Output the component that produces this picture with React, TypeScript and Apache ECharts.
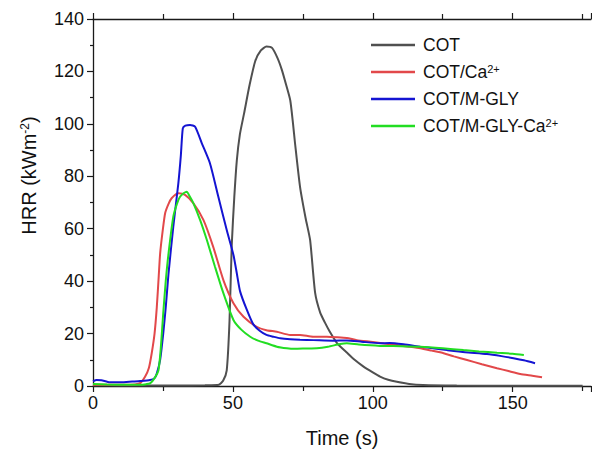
import React, { useEffect, useRef } from "react";
import * as echarts from "echarts";

const seriesNames = ["COT", "COT/Ca2+", "COT/M-GLY", "COT/M-GLY-Ca2+"];
const seriesColors = ["#505050", "#e2484a", "#1414d2", "#22dd22"];

// [time (s), HRR (kW m^-2)]
const cot: number[][] = [
  [0, 0.3], [10, 0.2], [20, 0.2], [30, 0.2], [40, 0.3], [45, 0.5], [46.5, 2], [47.8, 6],
  [48.8, 25], [49.6, 54], [50.5, 72], [51.4, 86], [52.5, 96], [54, 104], [56, 115], [58, 124],
  [60, 128], [62, 129.5], [64, 129], [66, 125], [67.5, 120.6], [69, 115], [70.5, 109],
  [71.5, 100], [72.2, 92.7], [74, 76], [76, 64], [77.6, 55.7], [79.4, 35.5], [81.2, 28],
  [83, 24], [84.5, 21], [87.2, 16.4], [90.7, 12.8], [93.5, 10], [96.7, 7.4], [100, 5.2],
  [102.6, 3.6], [105.5, 2.4], [108.6, 1.6], [113, 0.8], [118, 0.4], [130, 0.2], [150, 0.1],
  [175, 0.1],
];
const cotCa: number[][] = [
  [0, 0.5], [5, 0.5], [10, 0.5], [15, 0.6], [17, 1.2], [18.6, 3.5], [20, 7], [21, 12.6],
  [22, 20], [22.8, 30], [23.5, 42], [24, 50.6], [25, 60], [25.8, 66], [27, 69.5], [28.1, 71.6],
  [30.5, 73.5], [32.9, 72.9], [35.9, 69.7], [39.5, 63.3], [43, 53], [46.6, 40.4], [50.2, 31.6],
  [53.8, 26.4], [58.5, 22.6], [62, 21.3], [65.7, 20.7], [70.5, 19.5], [74, 19.5], [78.7, 18.8],
  [83.6, 18.8], [87.2, 18.6], [90.7, 18.3], [94.3, 17.5], [100, 16.8], [104, 16.2],
  [108.6, 15.6], [113, 15], [117, 14.4], [121, 13.5], [125.3, 12.5], [129, 11.3], [133.7, 9.9],
  [139, 8.3], [144.4, 6.8], [148.5, 5.7], [152.7, 4.6], [157, 3.9], [160.5, 3.3],
];
const cotGly: number[][] = [
  [0, 1.8], [1.3, 2.3], [3, 2.2], [6, 1.4], [10, 1.4], [14, 1.7], [16.8, 1.9], [20.4, 2.3],
  [22, 3], [22.8, 4.8], [24, 10], [25.1, 20], [26, 30], [27, 43], [28.7, 60.8], [30.5, 77.3],
  [31.4, 88], [32.1, 98.3], [33, 99.3], [34.7, 99.6], [36.5, 98.9], [38.9, 92.6], [41.8, 85],
  [44.8, 72.2], [47.8, 59.5], [50.2, 50], [51.4, 43], [52.6, 36], [55, 29], [57.3, 23.5],
  [59.7, 21], [62, 19.5], [64.5, 18.8], [66.9, 18.2], [70.5, 17.8], [74, 17.6], [78.8, 17.5],
  [85.8, 17.3], [90.7, 17.4], [96, 16.9], [102.6, 16.3], [106, 16.4], [111, 15.9], [117, 15],
  [122, 14.3], [126.5, 13.7], [133, 12.9], [140.8, 12.2], [146, 11.4], [150.3, 10.6],
  [154, 9.8], [158, 8.7],
];
const cotGlyCa: number[][] = [
  [0, 0.8], [5, 0.6], [10, 0.5], [16.8, 0.5], [19, 0.7], [20.4, 1], [22, 3], [23.4, 6],
  [24.2, 14], [25.1, 27.7], [26, 40], [27, 50.6], [28.7, 64.6], [30, 69.5], [31.1, 72.2],
  [32.5, 73.6], [33.5, 74.1], [34.5, 72.5], [35.9, 69.7], [38.3, 63.3], [40.7, 55.7],
  [43.6, 45.5], [46.6, 35.4], [50.2, 25.2], [53, 21.5], [56.2, 18.8], [59, 17.3], [62, 16.3],
  [65.7, 15], [69.3, 14.4], [72, 14.2], [76, 14.3], [80, 14.4], [84, 15], [88.3, 16],
  [90.7, 16.3], [95, 15.8], [102.6, 15.3], [110, 15.2], [117, 15], [125, 14.4], [132.4, 13.7],
  [138, 13.2], [144.4, 12.7], [150, 12.3], [154, 11.8],
];
const allData = [cot, cotCa, cotGly, cotGlyCa];

const legendLabels: Record<string, string> = {
  "COT": "COT",
  "COT/Ca2+": "COT/Ca{sup|2+}",
  "COT/M-GLY": "COT/M-GLY",
  "COT/M-GLY-Ca2+": "COT/M-GLY-Ca{sup|2+}",
};

const FONT = "'Liberation Sans', Arial, sans-serif";

export default function App() {
  const ref = useRef<HTMLDivElement>(null);
  useEffect(() => {
    if (!ref.current) return;
    const chart = echarts.init(ref.current, undefined, { renderer: "svg" });
    const axisLine = { show: true, lineStyle: { color: "#1a1a1a", width: 1.3 } };
    const tickStyle = { color: "#1a1a1a", width: 1.2 };
    chart.setOption({
      animation: false,
      backgroundColor: "#ffffff",
      textStyle: { fontFamily: FONT },
      grid: { left: 93, right: 1, top: 19, bottom: 67 },
      legend: {
        orient: "vertical",
        left: 371,
        top: 36,
        padding: 0,
        itemWidth: 44,
        itemHeight: 2.5,
        itemGap: 9,
        icon: "rect",
        data: seriesNames,
        formatter: (n: string) => legendLabels[n] || n,
        textStyle: {
          fontFamily: FONT,
          fontSize: 17.5,
          color: "#111",
          padding: [0, 0, 0, 3],
          lineHeight: 17,
          rich: {
            sup: { fontSize: 11, fontFamily: FONT, color: "#111", verticalAlign: "top", lineHeight: 17, padding: [0, 0, 6, 0] },
          },
        },
      },
      xAxis: [
        {
          type: "value",
          min: 0,
          max: 178,
          interval: 50,
          name: "Time (s)",
          nameLocation: "middle",
          nameGap: 42,
          nameTextStyle: { fontSize: 20, color: "#111", fontFamily: FONT },
          axisLine,
          axisTick: { show: true, length: 6, lineStyle: tickStyle },
          minorTick: { show: true, splitNumber: 2, length: 5, lineStyle: tickStyle },
          axisLabel: { fontSize: 18, color: "#111", margin: 8, fontFamily: FONT, showMaxLabel: false },
          splitLine: { show: false },
        },
        {
          type: "value",
          position: "top",
          min: 0,
          max: 178,
          interval: 50,
          axisLine,
          axisTick: { show: true, length: 6, lineStyle: tickStyle },
          minorTick: { show: true, splitNumber: 2, length: 5, lineStyle: tickStyle },
          axisLabel: { show: false },
          splitLine: { show: false },
        },
      ],
      yAxis: {
        type: "value",
        min: 0,
        max: 140,
        interval: 20,
        name: "HRR (kWm{sup|-2})",
        nameLocation: "middle",
        nameGap: 54,
        nameTextStyle: {
          fontSize: 20,
          color: "#111",
          fontFamily: FONT,
          padding: [0, 0, 0, 54],
          rich: {
            sup: { fontSize: 12, fontFamily: FONT, color: "#111", verticalAlign: "top", padding: [0, 0, 8, 0] },
          },
        },
        axisLine,
        axisTick: { show: true, length: 6, lineStyle: tickStyle },
        minorTick: { show: true, splitNumber: 2, length: 3, lineStyle: tickStyle },
        axisLabel: { fontSize: 18, color: "#111", margin: 9, fontFamily: FONT },
        splitLine: { show: false },
      },
      series: seriesNames.map((name, i) => ({
        name,
        type: "line",
        xAxisIndex: 0,
        data: allData[i],
        showSymbol: false,
        smooth: 0.2,
        color: seriesColors[i],
        lineStyle: { color: seriesColors[i], width: 2 },
        itemStyle: { color: seriesColors[i] },
        z: 2 + i,
      })),
    });
    return () => chart.dispose();
  }, []);
  return (
    <div
      ref={ref}
      style={{ position: "fixed", left: 0, top: 0, width: 592, height: 453, background: "#fff" }}
    />
  );
}
